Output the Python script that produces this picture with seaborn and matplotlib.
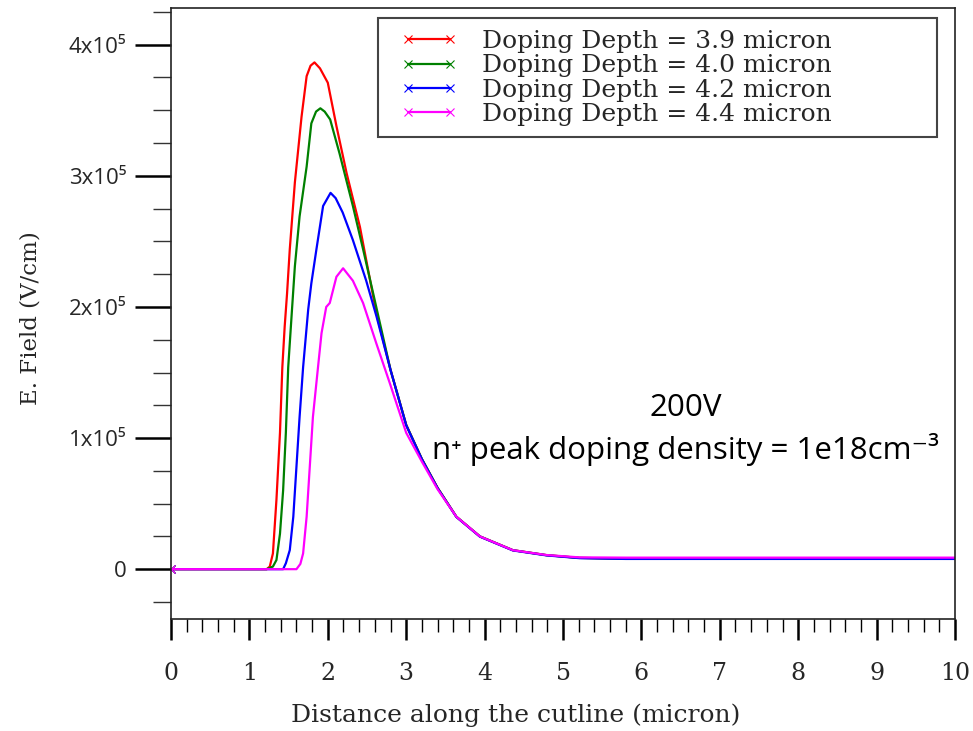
import matplotlib
matplotlib.use("Agg")
import matplotlib.pyplot as plt
from matplotlib.ticker import MultipleLocator
from matplotlib.patches import Rectangle
import seaborn as sns
import pandas as pd

# ---- data (x in micron, E-field in units of 1e5 V/cm) ----
labels = ["Doping Depth = 3.9 micron", "Doping Depth = 4.0 micron",
          "Doping Depth = 4.2 micron", "Doping Depth = 4.4 micron"]
colors = ["#ff0000", "#008000", "#0000ff", "#ff00ff"]

tail_x = [3.0, 3.2, 3.4, 3.64, 3.94, 4.36, 4.79, 5.21, 5.8, 10.0]
tail_y = [1.10, 0.84, 0.62, 0.40, 0.25, 0.145, 0.107, 0.086, 0.080, 0.080]

red_x = [0.0, 1.22, 1.26, 1.30, 1.345, 1.39, 1.42, 1.45, 1.48, 1.515, 1.58, 1.665,
         1.73, 1.78, 1.83, 1.90, 2.0, 2.11, 2.24, 2.41, 2.62, 2.8]
red_y = [0.0, 0.0, 0.02, 0.12, 0.53, 1.04, 1.54, 1.85, 2.10, 2.44, 2.95, 3.45,
         3.76, 3.84, 3.865, 3.82, 3.71, 3.38, 3.02, 2.61, 1.95, 1.52]

green_x = [0.0, 1.22, 1.30, 1.345, 1.39, 1.43, 1.465, 1.495, 1.54, 1.58, 1.64,
           1.73, 1.79, 1.85, 1.905, 1.96, 2.03, 2.15, 2.32, 2.45, 2.58, 2.8]
green_y = [0.0, 0.0, 0.02, 0.07, 0.27, 0.60, 1.04, 1.54, 1.95, 2.31, 2.69,
           3.07, 3.40, 3.49, 3.515, 3.49, 3.43, 3.17, 2.77, 2.44, 2.10, 1.52]

blue_x = [0.0, 1.43, 1.465, 1.515, 1.56, 1.60, 1.64, 1.685, 1.75, 1.79, 1.855,
          1.94, 2.035, 2.10, 2.19, 2.32, 2.49, 2.62, 2.8]
blue_y = [0.0, 0.0, 0.045, 0.145, 0.40, 0.78, 1.16, 1.54, 1.98, 2.18, 2.44,
          2.77, 2.87, 2.83, 2.72, 2.51, 2.20, 1.93, 1.52]

mag_x = [0.0, 1.60, 1.65, 1.685, 1.73, 1.77, 1.81, 1.875, 1.92, 1.98, 2.025, 2.11,
         2.195, 2.32, 2.45, 2.62, 2.79]
mag_y = [0.0, 0.0, 0.04, 0.12, 0.40, 0.78, 1.16, 1.54, 1.80, 2.0, 2.03, 2.23,
         2.295, 2.20, 2.03, 1.72, 1.42]
mag_tail_y = [1.04, 0.82, 0.61, 0.40, 0.25, 0.145, 0.108, 0.09, 0.088, 0.088]

xticks = [0, 1, 2, 3, 4, 5, 6, 7, 8, 9, 10]
yticks = [0, 1, 2, 3, 4]
ytick_labels = ["0", "1x10\u2075", "2x10\u2075", "3x10\u2075", "4x10\u2075"]

series = [(red_x + tail_x, red_y + tail_y),
          (green_x + tail_x, green_y + tail_y),
          (blue_x + tail_x, blue_y + [v - 0.002 for v in tail_y]),
          (mag_x + tail_x, mag_y + mag_tail_y)]

frames = []
for lab, (xs, ys) in zip(labels, series):
    frames.append(pd.DataFrame({"x": xs, "E": [v * 1e5 for v in ys], "series": lab}))
df = pd.concat(frames, ignore_index=True)

sns.set_theme(style="white")
plt.rcParams["font.family"] = ["DejaVu Serif"]

fig = plt.figure(figsize=(9.73, 7.31), dpi=100)
ax = fig.add_axes([171 / 973, (731 - 619) / 731, (955 - 171) / 973, (619 - 8) / 731])

for lab, col in zip(labels, colors):
    sub = df[df["series"] == lab]
    sns.lineplot(data=sub, x="x", y="E", ax=ax, color=col, linewidth=1.6,
                 sort=False, estimator=None, legend=False)

lines = ax.get_lines()[:4]
for ln, col in zip(lines, colors):
    ln.set_marker("x")
    ln.set_markersize(6)
    ln.set_markeredgewidth(0.8)
    ln.set_markeredgecolor(col)
    ln.set_markerfacecolor(col)

ax.set_xlim(0, 10)
ax.set_ylim(-0.38e5, 4.28e5)

ax.set_xticks(xticks)
ax.set_xticklabels([str(t) for t in xticks], fontsize=17, family="DejaVu Serif")
ax.xaxis.set_minor_locator(MultipleLocator(0.2))
ax.set_yticks([t * 1e5 for t in yticks])
ax.set_yticklabels(ytick_labels, fontsize=16, family=["Open Sans", "DejaVu Sans"])
ax.yaxis.set_minor_locator(MultipleLocator(0.25e5))

ax.tick_params(axis="x", which="major", direction="out", length=15, width=1.8,
               color="black", pad=16, bottom=True, top=False)
ax.tick_params(axis="x", which="minor", direction="out", length=9, width=1.0,
               color="black", bottom=True, top=False)
ax.tick_params(axis="y", which="major", direction="out", length=26, width=1.8,
               color="black", pad=6, left=True, right=False)
ax.tick_params(axis="y", which="minor", direction="out", length=13, width=1.0,
               color="#333333", left=True, right=False)

for s in ax.spines.values():
    s.set_visible(True)
    s.set_color("#222222")
    s.set_linewidth(1.2)

ax.set_xlabel("Distance along the cutline (micron)", fontsize=18, va="center")
ax.xaxis.set_label_coords((516 - 171) / 784, -(715 - 619) / 611)
ax.set_ylabel("E. Field (V/cm)", fontsize=16.5, va="center")
ax.yaxis.set_label_coords(-(171 - 31) / 784, (619 - 318) / 611)
ax.grid(False)

# legend: lines with x markers at both ends, frame drawn separately
for h in lines:
    h.set_markevery(None)
leg = ax.legend(handles=lines, labels=labels, loc="upper left",
                bbox_to_anchor=((400 - 171) / 784, (619 - 30) / 611),
                fontsize=18, labelspacing=0.05, handlelength=2.3, handletextpad=1.0,
                borderpad=0, borderaxespad=0, numpoints=2, frameon=False)
for h in lines:
    h.set_markevery([0])

ax.add_patch(Rectangle(((378 - 171) / 784, (619 - 137) / 611),
                       (937 - 378) / 784, (137 - 18) / 611,
                       transform=ax.transAxes, fill=False, edgecolor="#444444",
                       linewidth=1.5, zorder=4))

ax.text((686 - 171) / 784, (619 - 408) / 611, "200V", transform=ax.transAxes,
        ha="center", va="center", fontsize=22.5,
        family=["Open Sans", "DejaVu Sans"], color="black")
ax.text((686 - 171) / 784, (619 - 450) / 611,
        "n\u207a peak doping density = 1e18cm\u207b\u00b3",
        transform=ax.transAxes, ha="center", va="center",
        fontsize=22.5, family=["Open Sans", "DejaVu Sans"], color="black")

fig.savefig("out.png", dpi=100)
